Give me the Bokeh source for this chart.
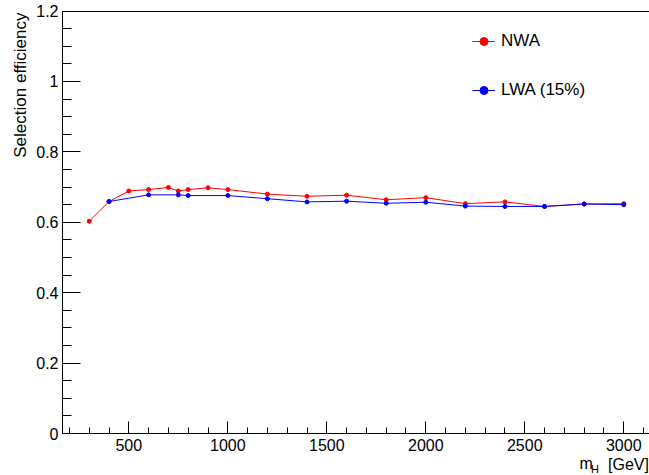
from bokeh.plotting import figure
from bokeh.models import (Range1d, SingleIntervalTicker, CustomJSTickFormatter,
                          Label, Legend, LegendItem, LinearAxis)
from bokeh.embed import file_html
from bokeh.resources import INLINE

# Data
mass_nwa = [300, 400, 500, 600, 700, 750, 800, 900, 1000, 1200, 1400, 1600, 1800, 2000, 2200, 2400, 2600, 2800, 3000]
eff_nwa = [0.603, 0.659, 0.689, 0.693, 0.699, 0.689, 0.693, 0.698, 0.693, 0.680, 0.674, 0.677, 0.664, 0.670, 0.653, 0.658, 0.645, 0.652, 0.653]
mass_lwa = [400, 600, 750, 800, 1000, 1200, 1400, 1600, 1800, 2000, 2200, 2400, 2600, 2800, 3000]
eff_lwa = [0.659, 0.678, 0.678, 0.676, 0.676, 0.667, 0.658, 0.660, 0.654, 0.657, 0.646, 0.645, 0.645, 0.652, 0.650]
series_names = ["NWA", "LWA (15%)"]
y_title = "Selection efficiency"
x_title_main = "m"
x_title_sub = "H"
x_title_unit = "[GeV]"

FONT = "Liberation Sans"
X_MIN, X_MAX = 165, 3130   # visible axis extent
Y_MIN, Y_MAX = 0, 1.2

# the frame covers the whole canvas; axes are pinned at the data edges
p = figure(width=649, height=475, output_backend="svg", toolbar_location=None,
           x_range=Range1d(-148.2, 3130), y_range=Range1d(-0.1193, 1.2301),
           min_border_left=0, min_border_right=0, min_border_top=0, min_border_bottom=0)
p.outline_line_color = None
p.xgrid.visible = False
p.ygrid.visible = False
p.background_fill_color = "white"
p.border_fill_color = "white"

xa = p.xaxis[0]
xa.fixed_location = Y_MIN
xa.bounds = (X_MIN, X_MAX)
xa.ticker = SingleIntervalTicker(interval=500, num_minor_ticks=5)
xa.major_tick_in = 12
xa.major_tick_out = 0
xa.minor_tick_in = 6
xa.minor_tick_out = 0
xa.major_label_standoff = 5
xa.major_label_text_font = FONT
xa.major_label_text_font_size = "16px"
xa.major_label_text_color = "black"
xa.axis_line_color = "black"
xa.major_tick_line_color = "black"
xa.minor_tick_line_color = "black"

ya = p.yaxis[0]
ya.fixed_location = X_MIN
ya.bounds = (Y_MIN, Y_MAX + 0.0001)
ya.ticker = SingleIntervalTicker(interval=0.2, num_minor_ticks=4)
ya.formatter = CustomJSTickFormatter(code="return (Math.round(tick*10)/10).toString();")
ya.major_tick_in = 18
ya.major_tick_out = 0
ya.minor_tick_in = 9
ya.minor_tick_out = 0
ya.major_label_standoff = 4
ya.major_label_text_font = FONT
ya.major_label_text_font_size = "16px"
ya.major_label_text_color = "black"
ya.axis_line_color = "black"
ya.major_tick_line_color = "black"
ya.minor_tick_line_color = "black"

# top frame line
top = LinearAxis(fixed_location=Y_MAX, bounds=(X_MIN, X_MAX),
                 major_tick_in=0, major_tick_out=0, minor_tick_in=0, minor_tick_out=0,
                 major_label_text_color=None, axis_line_color="black")
p.add_layout(top, "above")

r1l = p.line(mass_nwa, eff_nwa, line_color="red", line_width=1)
r1m = p.scatter(mass_nwa, eff_nwa, size=4, fill_color="red", line_color="red")
r2l = p.line(mass_lwa, eff_lwa, line_color="blue", line_width=1)
r2m = p.scatter(mass_lwa, eff_lwa, size=4, fill_color="blue", line_color="blue")

legend = Legend(items=[LegendItem(label=series_names[0], renderers=[r1l, r1m]),
                       LegendItem(label=series_names[1], renderers=[r2l, r2m])],
                location=(472, 375), orientation="vertical",
                label_text_font=FONT, label_text_font_size="17px", label_text_color="black",
                glyph_width=23, glyph_height=20, label_height=20, spacing=29,
                label_standoff=6, padding=0, margin=0,
                border_line_color=None, background_fill_alpha=0)
p.add_layout(legend)

p.add_layout(Label(x=-47.2, y=1.196, text=y_title, angle=1.5707963, text_align="right",
                   text_baseline="alphabetic", text_font=FONT, text_font_size="17px",
                   text_color="black"))
p.add_layout(Label(x=2776, y=-0.0866, text=x_title_main, text_align="left",
                   text_baseline="alphabetic", text_font=FONT, text_font_size="16px",
                   text_color="black"))
p.add_layout(Label(x=2834, y=-0.1, text=x_title_sub, text_align="left",
                   text_baseline="alphabetic", text_font=FONT, text_font_size="11px",
                   text_color="black"))
p.add_layout(Label(x=3127, y=-0.088, text=x_title_unit, text_align="right",
                   text_baseline="alphabetic", text_font=FONT, text_font_size="16px",
                   text_color="black"))

open("out.html", "w").write(file_html(p, INLINE))
